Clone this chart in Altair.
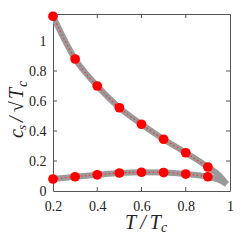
import altair as alt
import pandas as pd

T_pts = [0.2, 0.3, 0.4, 0.5, 0.6, 0.7, 0.8, 0.9]
upper_pts = [1.165, 0.88, 0.70, 0.555, 0.445, 0.345, 0.255, 0.16]
lower_pts = [0.08, 0.095, 0.108, 0.12, 0.125, 0.123, 0.113, 0.095]

T_curve_up = [0.2, 0.3, 0.4, 0.5, 0.6, 0.7, 0.8, 0.9, 0.95, 0.985]
upper_curve = [1.165, 0.88, 0.70, 0.555, 0.445, 0.345, 0.255, 0.16, 0.105, 0.045]
T_curve_lo = [0.2, 0.3, 0.4, 0.5, 0.6, 0.7, 0.8, 0.9, 0.95, 0.985]
lower_curve = [0.08, 0.095, 0.108, 0.12, 0.125, 0.123, 0.113, 0.095, 0.075, 0.045]

x_ticks = [0.2, 0.4, 0.6, 0.8, 1.0]
y_ticks = [0, 0.2, 0.4, 0.6, 0.8, 1.0]

W, H = 177, 177
XD = [0.2, 1.0]
YD = [0, 1.18]

curve = pd.concat([
    pd.DataFrame({"T": T_curve_up, "c": upper_curve, "branch": "upper"}),
    pd.DataFrame({"T": T_curve_lo, "c": lower_curve, "branch": "lower"}),
])
pts = pd.concat([
    pd.DataFrame({"T": T_pts, "c": upper_pts, "branch": "upper"}),
    pd.DataFrame({"T": T_pts, "c": lower_pts, "branch": "lower"}),
])

xs = alt.Scale(domain=XD, nice=False, zero=False)
ys = alt.Scale(domain=YD, nice=False, zero=False)
font = "Liberation Serif"

xax = alt.Axis(values=x_ticks, labelExpr="datum.value == 1 ? '1' : format(datum.value, '.1f')",
               tickSize=0, labelPadding=8, labelFont=font, labelFontSize=14, labelOverlap=False,
               labelColor="#222", domain=False, grid=False, title=None, labelFlush=False)
yax = alt.Axis(values=y_ticks, labelExpr="datum.value == 0 ? '0' : datum.value == 1 ? '1' : format(datum.value, '.1f')",
               tickSize=0, labelPadding=7, labelFont=font, labelFontSize=14, labelOverlap=False,
               labelColor="#222", domain=False, grid=False, title=None, labelFlush=False)


def X(f):
    return alt.X(f, scale=xs, axis=xax)


def Y(f):
    return alt.Y(f, scale=ys, axis=yax)


gray = alt.Chart(curve).mark_line(color="#9a9a9a", strokeWidth=6, interpolate="monotone", clip=True).encode(
    x=X("T:Q"), y=Y("c:Q"), detail="branch:N")
reddot = alt.Chart(pts).mark_line(color="#ff3030", strokeWidth=1.2, strokeDash=[1.5, 2.5], interpolate="monotone").encode(
    x=X("T:Q"), y=Y("c:Q"), detail="branch:N")
points = alt.Chart(pts).mark_point(filled=True, color="#ff0000", size=95, opacity=1, shape="circle").encode(
    x=X("T:Q"), y=Y("c:Q"))

xt = pd.DataFrame({"T": x_ticks[1:-1]})
yt = pd.DataFrame({"c": y_ticks[1:-1]})
tc = "#555"
xb = alt.Chart(xt).mark_rule(color=tc, strokeWidth=1).encode(x=X("T:Q"), y=alt.value(H), y2=alt.value(H - 4))
xtop = alt.Chart(xt).mark_rule(color=tc, strokeWidth=1).encode(x=X("T:Q"), y=alt.value(0), y2=alt.value(4))
yl = alt.Chart(yt).mark_rule(color=tc, strokeWidth=1).encode(y=Y("c:Q"), x=alt.value(0), x2=alt.value(4))
yr = alt.Chart(yt).mark_rule(color=tc, strokeWidth=1).encode(y=Y("c:Q"), x=alt.value(W), x2=alt.value(W - 4))

tfont = dict(font=font, fontStyle="italic", color="#222")


def txt(s, size, x, y, angle=0):
    kw = dict(fontSize=size, align="left", baseline="alphabetic", **tfont)
    if angle:
        kw["angle"] = angle
    return alt.Chart(pd.DataFrame({"t": [s]})).mark_text(**kw).encode(
        text="t:N", x=alt.value(x), y=alt.value(y))


xt1 = txt("T\u2009/\u2009T", 20, 72, 215)
xt2 = txt("c", 14, 108, 218)
bx = -30
yt1 = txt("c", 20, bx, 124, 270)
yt2 = txt("s", 13, bx + 3, 116, 270)
yt3 = txt("/", 20, bx, 108, 270)
yt4 = txt("√", 20, bx, 98, 270)
yt5 = txt("T", 20, bx, 85, 270)
yt6 = txt("c", 14, bx + 4, 73, 270)
vinc = alt.Chart(pd.DataFrame({"a": [0]})).mark_rule(color="#222", strokeWidth=0.9).encode(
    x=alt.value(bx - 16), y=alt.value(86), y2=alt.value(66))

chart = alt.layer(gray, reddot, points, xb, xtop, yl, yr, xt1, xt2,
                  yt1, yt2, yt3, yt4, yt5, yt6, vinc).properties(
    width=W, height=H,
    autosize=alt.AutoSizeParams(type="none"),
    padding={"left": 45, "top": 6, "right": 5, "bottom": 45},
).configure_view(stroke="#555", strokeWidth=1)

chart.save("out.html", embed_options={"renderer": "svg", "actions": False})
